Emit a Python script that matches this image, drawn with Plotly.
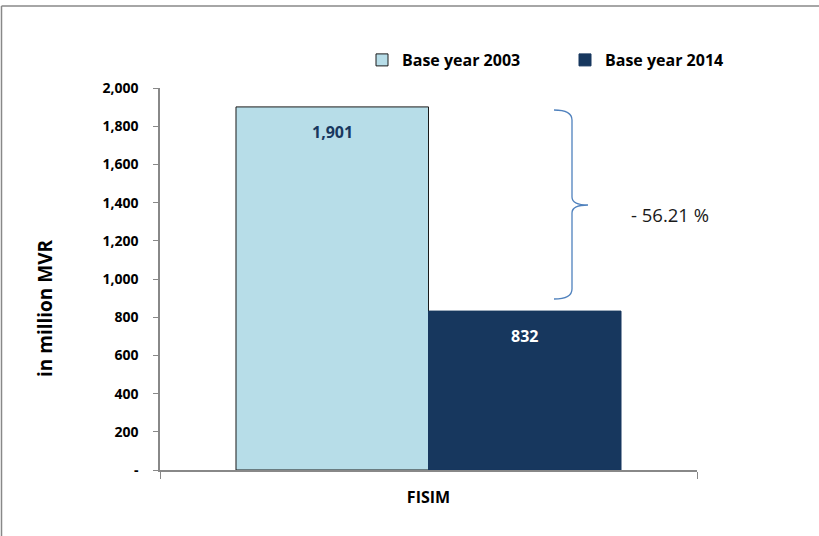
import plotly.graph_objects as go

# FISIM under the two base years, in million MVR
categories = ["FISIM"]
series_names = ["Base year 2003", "Base year 2014"]
values_2003 = [1901]
values_2014 = [832]
change_label = "- 56.21 %"
y_title = "in million MVR"
tick_values = [0, 200, 400, 600, 800, 1000, 1200, 1400, 1600, 1800, 2000]
tick_labels = ["-", "200", "400", "600", "800", "1,000", "1,200", "1,400", "1,600", "1,800", "2,000"]

W, H = 819, 536
L, R, T, B = 160, 122, 88, 66
PW, PH = W - L - R, H - T - B


def px(x):
    return (x - L) / PW


def py(y):
    return (H - B - y) / PH


light = "#B7DDE8"
navy = "#17375E"
font = "Open Sans"

fig = go.Figure()
fig.add_trace(go.Bar(
    x=categories, y=values_2003, name=f"<b>{series_names[0]}</b>",
    marker=dict(color=light, line=dict(color="#1a1a1a", width=1)),
))
fig.add_trace(go.Bar(
    x=categories, y=values_2014, name=f"<b>{series_names[1]}</b>",
    marker=dict(color=navy, line=dict(color=navy, width=1)),
))

# value labels just inside the top of each bar
for i, (vals, col) in enumerate([(values_2003, navy), (values_2014, "white")]):
    for c, v in zip(categories, vals):
        fig.add_annotation(
            x=c, y=v, xshift=(-1 if i == 0 else 1) * PW * 0.717 / 4,
            yshift=-25, text=f"<b>{v:,}</b>", showarrow=False,
            font=dict(family=font, size=16, color=col),
        )

# curly brace marking the drop between the two bars
bx, top, bot, tip = 572, 110, 299, 205
brace = (f"M {px(554)} {py(top)} Q {px(bx)} {py(top)} {px(bx)} {py(top + 10)} "
         f"L {px(bx)} {py(tip - 8)} Q {px(bx)} {py(tip)} {px(588)} {py(tip)} "
         f"Q {px(bx)} {py(tip)} {px(bx)} {py(tip + 8)} "
         f"L {px(bx)} {py(bot - 10)} Q {px(bx)} {py(bot)} {px(554)} {py(bot)}")
fig.add_shape(type="path", xref="paper", yref="paper", path=brace,
              line=dict(color="#4F81BD", width=1.3))
fig.add_annotation(xref="paper", yref="paper", x=px(629), y=py(214),
                   xanchor="left", yanchor="middle", text=change_label,
                   showarrow=False, font=dict(family=font, size=18.5, color="#1a1a1a"))

# rotated y-axis title
fig.add_annotation(xref="paper", yref="paper", x=px(45), y=py(308),
                   xanchor="center", yanchor="middle", textangle=-90,
                   text=f"<b>{y_title}</b>", showarrow=False,
                   font=dict(family=font, size=19, color="#000000"))

# outer frame edges (top and left)
fig.add_shape(type="line", xref="paper", yref="paper",
              x0=px(1.5), x1=px(W), y0=py(6), y1=py(6),
              line=dict(color="#888888", width=1.5))
fig.add_shape(type="line", xref="paper", yref="paper",
              x0=px(1.5), x1=px(1.5), y0=py(6), y1=py(H),
              line=dict(color="#888888", width=1.5))

fig.update_layout(
    width=W, height=H,
    margin=dict(l=L, r=R, t=T, b=B),
    paper_bgcolor="white", plot_bgcolor="white",
    barmode="group", bargap=0.283, bargroupgap=0,
    font=dict(family=font, color="#000000"),
    showlegend=True,
    legend=dict(orientation="h", x=px(362), y=py(60), xanchor="left", yanchor="middle",
                font=dict(family=font, size=16, color="#000000"),
                itemwidth=30, entrywidth=158, traceorder="normal",
                bgcolor="rgba(0,0,0,0)"),
    xaxis=dict(
        showline=True, linecolor="#888888", linewidth=1.5,
        ticks="outside", tickson="boundaries", ticklen=7, tickcolor="#888888",
        tickfont=dict(family=font, size=16, color="#000000"),
        ticklabelstandoff=12,
        tickprefix="<b>", ticksuffix="</b>",
    ),
    yaxis=dict(
        range=[0, 2000], tickvals=tick_values,
        ticktext=[f"<b>{t}</b>" for t in tick_labels],
        showline=True, linecolor="#888888", linewidth=1.5,
        ticks="outside", ticklen=5, tickcolor="#888888",
        showgrid=False, zeroline=False,
        ticklabelstandoff=12,
        tickfont=dict(family=font, size=14, color="#000000"),
    ),
)

fig.write_html("out.html")
